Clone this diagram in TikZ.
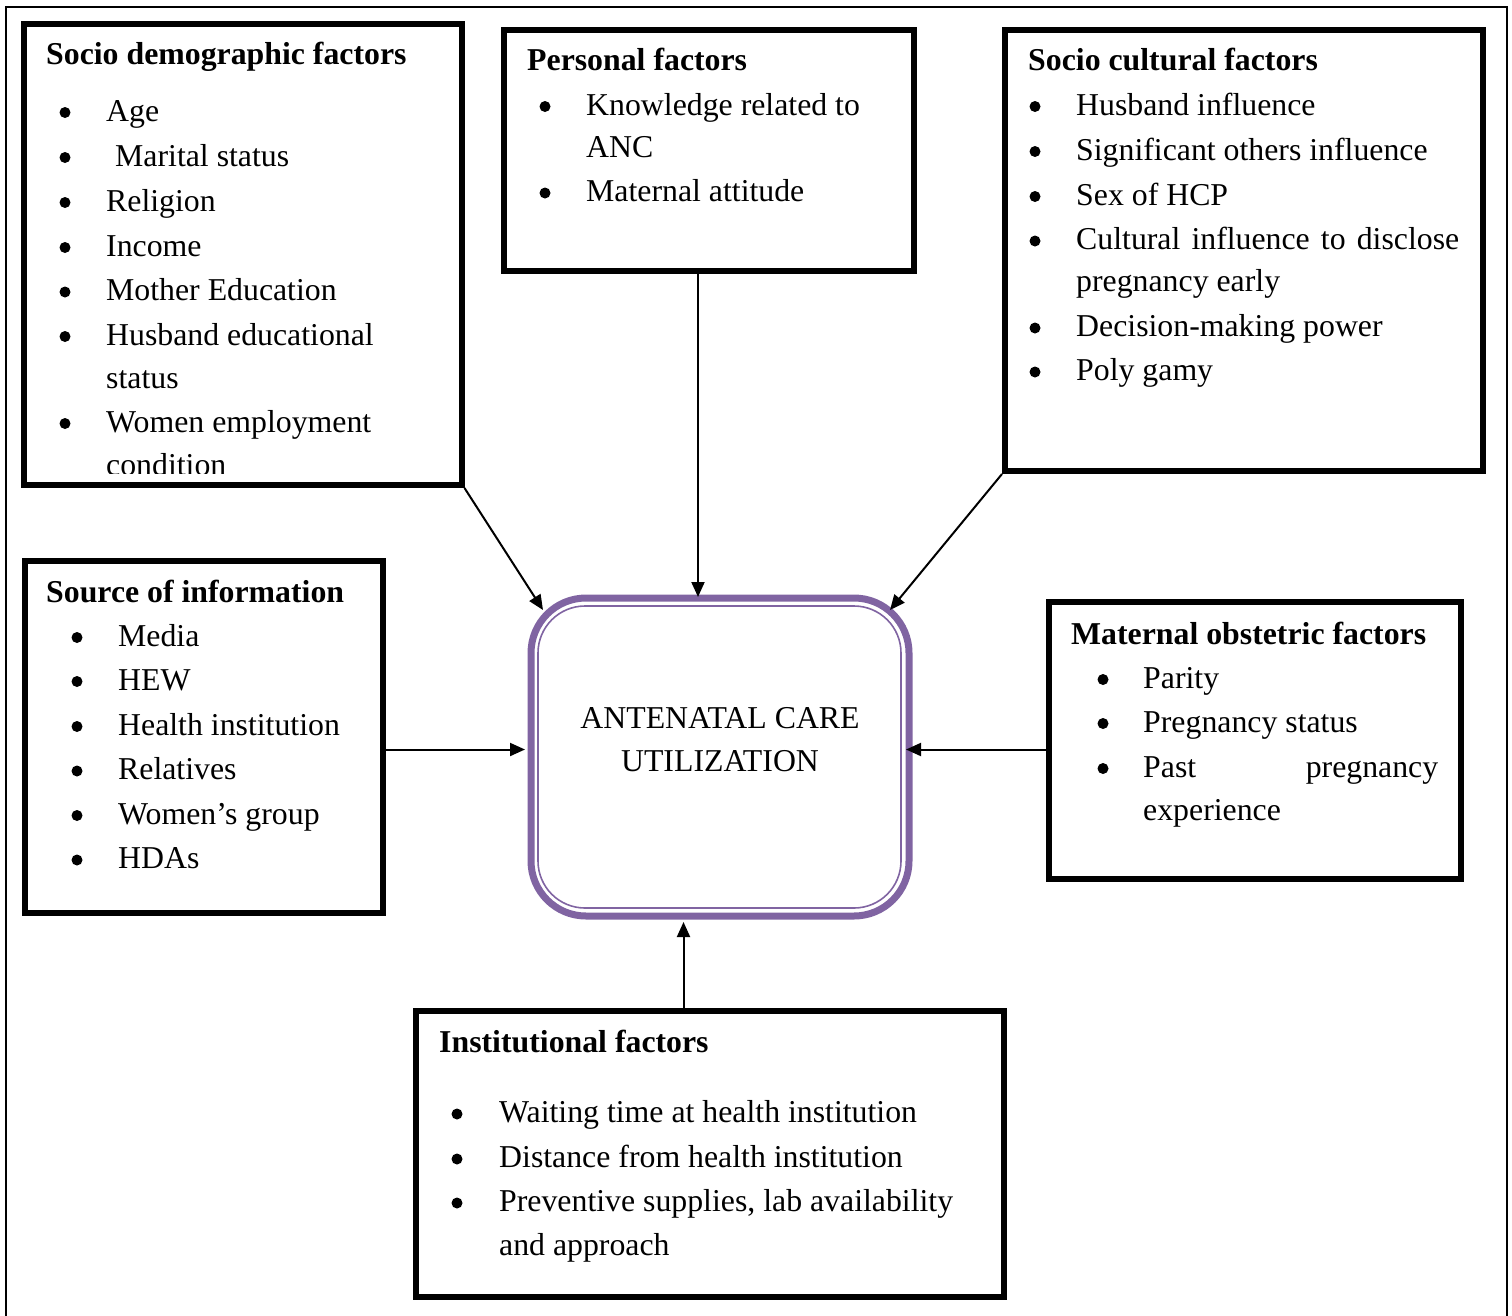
\documentclass[tikz,border=0pt]{standalone}
\usepackage{fontspec}
\setmainfont{Liberation Serif}
\usetikzlibrary{arrows.meta}
\definecolor{ancpurple}{HTML}{8064A2}
\tikzset{
  fbox/.style={draw=black, line width=6pt, inner sep=0pt},
  txt/.style={anchor=base west, inner sep=0pt, font=\fontsize{31.8}{40}\selectfont},
  hd/.style={anchor=base west, inner sep=0pt, font=\fontsize{31.8}{40}\selectfont\bfseries},
  ctxt/.style={anchor=base, inner sep=0pt, font=\fontsize{31.8}{40}\selectfont},
  arr/.style={draw=black, line width=2pt, -{Triangle[length=15pt,width=13pt]}},
  bulletdot/.style={fill=black},
}
\newcommand\bul[2]{\fill[bulletdot] (#1,#2-8.5) circle (5.5pt);}
\begin{document}
\begin{tikzpicture}[x=1pt,y=-1pt]
\useasboundingbox (0,0) rectangle (1512,1315);
% outer frame (no bottom side)
\draw[line width=2pt] (6.3,1316) -- (6.3,7) -- (1507,7) -- (1507,1316);

% ---------- boxes ----------
\node[fbox, minimum width=438pt, minimum height=461.5pt] (sd) at (242.5,254.25) {};
\node[fbox, minimum width=410.5pt, minimum height=241.5pt] (pf) at (708.75,150.25) {};
\node[fbox, minimum width=477.5pt, minimum height=441pt] (sc) at (1243.75,250.5) {};
\node[fbox, minimum width=358.5pt, minimum height=352.5pt] (soi) at (203.75,736.75) {};
\node[fbox, minimum width=412.5pt, minimum height=277pt] (mo) at (1254.75,740.5) {};
\node[fbox, minimum width=588.5pt, minimum height=286pt] (inst) at (709.75,1153.5) {};

% centre box
\node[draw=ancpurple, line width=7pt, rounded corners=55pt, minimum width=378pt, minimum height=318pt, inner sep=0pt] (anc) at (720,757) {};
\node[draw=ancpurple, line width=1.6pt, rounded corners=47pt, minimum width=363pt, minimum height=302pt, inner sep=0pt] (ancin) at (719.5,757) {};
\node[ctxt] (anc1) at (720,728.5) {ANTENATAL CARE};
\node[ctxt] (anc2) at (720,771.5) {UTILIZATION};

% ---------- Socio demographic factors ----------
\node[hd] (sdh) at (46,64) {Socio demographic factors};
\bul{65}{121}  \node[txt] (sd1) at (106,121) {Age};
\bul{65}{166}  \node[txt] (sd2) at (115,166) {Marital status};
\bul{65}{211}  \node[txt] (sd3) at (106,211) {Religion};
\bul{65}{256}  \node[txt] (sd4) at (106,256) {Income};
\bul{65}{300.5}\node[txt] (sd5) at (106,300.5) {Mother Education};
\bul{65}{345}  \node[txt] (sd6) at (106,345) {Husband educational};
\node[txt] (sd6b) at (106,388) {status};
\bul{65}{432}  \node[txt] (sd7) at (106,432) {Women employment};
\begin{scope}
\clip (30,30) rectangle (455,473);
\node[txt] (sd7b) at (106,475) {condition};
\end{scope}

% ---------- Personal factors ----------
\node[hd] (pfh) at (527,70) {Personal factors};
\bul{545}{115} \node[txt] (pf1) at (586,115) {Knowledge related to};
\node[txt] (pf1b) at (586,157) {ANC};
\bul{545}{201.5} \node[txt] (pf2) at (586,201.5) {Maternal attitude};

% ---------- Socio cultural factors ----------
\node[hd] (sch) at (1028,70) {Socio cultural factors};
\bul{1035}{115} \node[txt] (sc1) at (1076,115) {Husband influence};
\bul{1035}{160} \node[txt] (sc2) at (1076,160) {Significant others influence};
\bul{1035}{205} \node[txt] (sc3) at (1076,205) {Sex of HCP};
\bul{1035}{249.5} \node[txt] (sc4) at (1076,249.5) {\makebox[383pt][s]{Cultural influence to disclose}};
\node[txt] (sc4b) at (1076,291) {pregnancy early};
\bul{1035}{336.5} \node[txt] (sc5) at (1076,336.5) {Decision-making power};
\bul{1035}{380.5} \node[txt] (sc6) at (1076,380.5) {Poly gamy};

% ---------- Source of information ----------
\node[hd] (soih) at (46,602) {Source of information};
\bul{77}{646} \node[txt] (soi1) at (118,646) {Media};
\bul{77}{690} \node[txt] (soi2) at (118,690) {HEW};
\bul{77}{735} \node[txt] (soi3) at (118,735) {Health institution};
\bul{77}{779.5} \node[txt] (soi4) at (118,779.5) {Relatives};
\bul{77}{824} \node[txt] (soi5) at (118,824) {Women’s group};
\bul{77}{868.5} \node[txt] (soi6) at (118,868.5) {HDAs};

% ---------- Maternal obstetric factors ----------
\node[hd] (moh) at (1071,644) {Maternal obstetric factors};
\bul{1103}{688} \node[txt] (mo1) at (1143,688) {Parity};
\bul{1103}{732} \node[txt] (mo2) at (1143,732) {Pregnancy status};
\bul{1103}{777} \node[txt] (mo3) at (1143,777) {\makebox[295pt][s]{Past pregnancy}};
\node[txt] (mo3b) at (1143,820) {experience};

% ---------- Institutional factors ----------
\node[hd] (insth) at (439,1052) {Institutional factors};
\bul{457}{1122.5} \node[txt] (inst1) at (499,1122.5) {Waiting time at health institution};
\bul{457}{1167.5} \node[txt] (inst2) at (499,1167.5) {Distance from health institution};
\bul{457}{1211.5} \node[txt] (inst3) at (499,1211.5) {Preventive supplies, lab availability};
\node[txt] (inst3b) at (499,1255) {and approach};

% ---------- connectors ----------
\coordinate (tipNW) at (543,610);
\coordinate (tipN)  at (698,597);
\coordinate (tipNE) at (890,610);
\coordinate (tipW)  at (525,749.5);
\coordinate (tipE)  at (906,749.5);
\coordinate (tipS)  at (683.5,922);
\draw[arr] (sd.south east) -- (tipNW);
\draw[arr] (tipN |- pf.south) -- (tipN);
\draw[arr] (sc.south west) -- (tipNE);
\draw[arr] (soi.east |- tipW) -- (tipW);
\draw[arr] (mo.west |- tipE) -- (tipE);
\draw[arr] (tipS |- inst.north) -- (tipS);
\end{tikzpicture}
\end{document}
